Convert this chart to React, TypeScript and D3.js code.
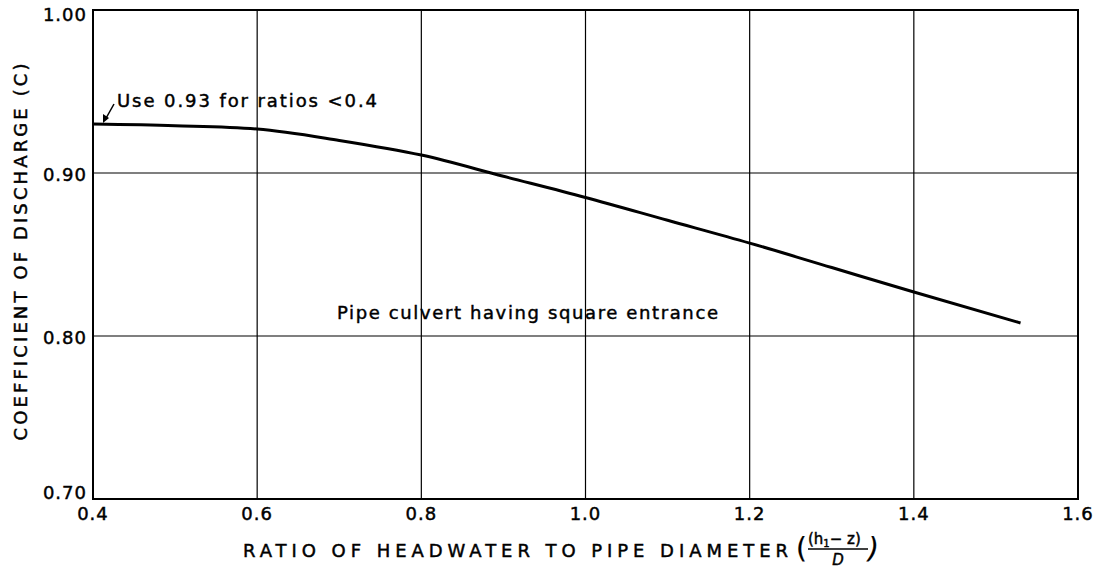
import React, { useRef, useEffect } from "react";
import * as d3 from "d3";

// ratio of headwater to pipe diameter vs coefficient of discharge
const ratios = [0.4, 0.5, 0.6, 0.7, 0.8, 0.9, 1.0, 1.1, 1.2, 1.3, 1.4, 1.53];
const coeffs = [0.93, 0.929, 0.927, 0.92, 0.911, 0.898, 0.885, 0.871, 0.857, 0.842, 0.827, 0.808];

const xTicks = [0.4, 0.6, 0.8, 1.0, 1.2, 1.4, 1.6];
const yTicks = [0.7, 0.8, 0.9, 1.0];

const yTitle = "COEFFICIENT OF DISCHARGE (C)";
const xTitle = "RATIO OF HEADWATER TO PIPE DIAMETER";
const noteText = "Use 0.93 for ratios <0.4";
const curveLabel = "Pipe culvert having square entrance";

const W = 1096;
const H = 569;
const FONT = "'DejaVu Sans', sans-serif";

function DischargeChart() {
  const svgRef = useRef<SVGSVGElement>(null);

  useEffect(() => {
    const svg = d3.select(svgRef.current);
    svg.selectAll("*").remove();

    const x = d3.scaleLinear().domain([0.4, 1.6]).range([93, 1078]);
    const y = d3.scaleLinear().domain([0.7, 1.0]).range([499, 10]);

    // grid
    svg
      .selectAll(".vgrid")
      .data(xTicks.slice(1, -1))
      .join("line")
      .attr("x1", (d) => x(d))
      .attr("x2", (d) => x(d))
      .attr("y1", y(1.0))
      .attr("y2", y(0.7))
      .attr("stroke", "#000")
      .attr("stroke-width", 1.2);

    svg
      .selectAll(".hgrid")
      .data(yTicks.slice(1, -1))
      .join("line")
      .attr("x1", x(0.4))
      .attr("x2", x(1.6))
      .attr("y1", (d) => y(d))
      .attr("y2", (d) => y(d))
      .attr("stroke", "#000")
      .attr("stroke-width", 1.2);

    // frame
    svg
      .append("rect")
      .attr("x", x(0.4))
      .attr("y", y(1.0))
      .attr("width", x(1.6) - x(0.4))
      .attr("height", y(0.7) - y(1.0))
      .attr("fill", "none")
      .attr("stroke", "#000")
      .attr("stroke-width", 2);

    const txt = (sel: any, size: number) =>
      sel
        .attr("font-family", FONT)
        .attr("font-size", size)
        .attr("fill", "#000")
        .attr("stroke", "#000")
        .attr("stroke-width", 0.45);

    // y tick labels
    svg
      .selectAll(".ylab")
      .data(yTicks)
      .join("text")
      .attr("x", 87)
      .attr("y", (d) => Math.min(Math.max(y(d) + 2, 15), 493))
      .attr("dy", "0.36em")
      .attr("text-anchor", "end")
      .call(txt, 18)
      .attr("letter-spacing", 1)
      .text((d) => d.toFixed(2));

    // x tick labels
    svg
      .selectAll(".xlab")
      .data(xTicks)
      .join("text")
      .attr("x", (d) => x(d))
      .attr("y", 520)
      .attr("text-anchor", "middle")
      .call(txt, 18)
      .attr("letter-spacing", 1)
      .text((d) => d.toFixed(1));

    // curve
    const pts = ratios.map((r, i) => [r, coeffs[i]] as [number, number]);
    const line = d3
      .line<[number, number]>()
      .x((d) => x(d[0]))
      .y((d) => y(d[1]))
      .curve(d3.curveMonotoneX);
    svg
      .append("path")
      .attr("d", line(pts))
      .attr("fill", "none")
      .attr("stroke", "#000")
      .attr("stroke-width", 3);

    // annotation
    svg
      .append("text")
      .attr("x", 117)
      .attr("y", 107)
      .call(txt, 18)
      .attr("textLength", 260)
      .attr("lengthAdjust", "spacing")
      .text(noteText);
    svg
      .append("line")
      .attr("x1", 114)
      .attr("y1", 104)
      .attr("x2", 105)
      .attr("y2", 120)
      .attr("stroke", "#000")
      .attr("stroke-width", 1.5);
    svg
      .append("path")
      .attr("d", "M103,123 L103,114 L109,118 Z")
      .attr("fill", "#000");

    svg
      .append("text")
      .attr("x", 337)
      .attr("y", 319)
      .call(txt, 18)
      .attr("textLength", 381)
      .attr("lengthAdjust", "spacing")
      .text(curveLabel);

    // axis titles
    svg
      .append("text")
      .attr("transform", "translate(27,252) rotate(-90)")
      .attr("text-anchor", "middle")
      .call(txt, 18)
      .attr("textLength", 377)
      .attr("lengthAdjust", "spacing")
      .text(yTitle);

    svg
      .append("text")
      .attr("x", 243)
      .attr("y", 557)
      .call(txt, 18)
      .attr("textLength", 545)
      .attr("lengthAdjust", "spacing")
      .text(xTitle);

    // (h1 - z) / D fraction
    const frac = svg.append("g");
    frac
      .append("text")
      .attr("x", 796)
      .attr("y", 558)
      .call(txt, 28)
      .attr("stroke-width", 0.2)
      .text("(");
    const num = frac
      .append("text")
      .attr("x", 808)
      .attr("y", 544)
      .call(txt, 15);
    num.append("tspan").text("(h");
    num.append("tspan").attr("font-size", 10).attr("dy", 3).text("1");
    num.append("tspan").attr("dy", -3).text("\u2212 z)");
    frac
      .append("line")
      .attr("x1", 808)
      .attr("x2", 868)
      .attr("y1", 549)
      .attr("y2", 549)
      .attr("stroke", "#000")
      .attr("stroke-width", 1.4);
    frac
      .append("text")
      .attr("x", 838)
      .attr("y", 565)
      .call(txt, 15)
      .attr("font-style", "italic")
      .attr("text-anchor", "middle")
      .text("D");
    frac
      .append("text")
      .attr("x", 868)
      .attr("y", 558)
      .call(txt, 28)
      .attr("stroke-width", 0.2)
      .attr("font-style", "italic")
      .text(")");
  }, []);

  return (
    <svg
      ref={svgRef}
      width={W}
      height={H}
      style={{ position: "absolute", left: 0, top: 0, background: "#fff" }}
    />
  );
}

export default function App() {
  return <DischargeChart />;
}
